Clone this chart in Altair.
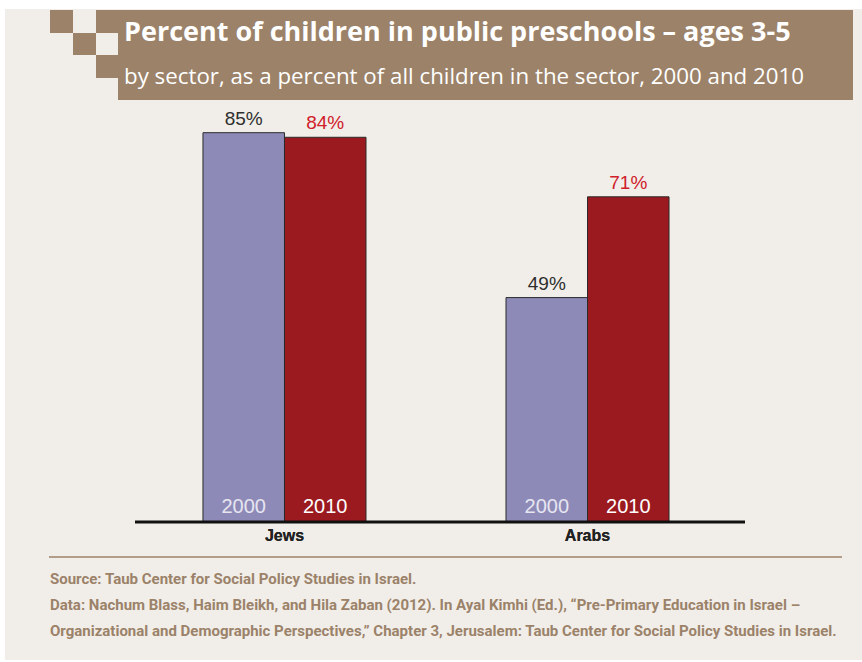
import altair as alt
import pandas as pd

sectors = ["Jews", "Jews", "Arabs", "Arabs"]
years = ["2000", "2010", "2000", "2010"]
values = [85, 84, 49, 71]

title_text = "Percent of children in public preschools – ages 3-5"
subtitle_text = "by sector, as a percent of all children in the sector, 2000 and 2010"
source_lines = [
    "Source: Taub Center for Social Policy Studies in Israel.",
    "Data: Nachum Blass, Haim Bleikh, and Hila Zaban (2012). In Ayal Kimhi (Ed.), “Pre-Primary Education in Israel –",
    "Organizational and Demographic Perspectives,” Chapter 3, Jerusalem: Taub Center for Social Policy Studies in Israel.",
]

df = pd.DataFrame({"sector": sectors, "year": years, "value": values})

BEIGE = "#F1EEE9"
BROWN = "#9B8269"
one = alt.Data(values=[{}])

def box(x, x2, y, y2, color):
    return alt.Chart(one).mark_rect(color=color).encode(
        x=alt.value(x), x2=alt.value(x2), y=alt.value(y), y2=alt.value(y2)
    )

bg = box(5, 862, 9, 660, BEIGE)
title_boxes = [
    box(118, 853, 10, 100, BROWN),
    box(96, 118, 10, 33, BROWN),
    box(50, 73, 10, 33, BROWN),
    box(73, 96, 33, 55, BROWN),
    box(96, 118, 55, 78, BROWN),
]

title = alt.Chart(one).mark_text(
    text=title_text, font="Open Sans", fontWeight="bold", fontSize=27, color="white",
    align="left", baseline="middle"
).encode(x=alt.value(124), y=alt.value(33))
subtitle = alt.Chart(one).mark_text(
    text=subtitle_text, font="Open Sans", fontSize=22.3, color="white",
    align="left", baseline="middle"
).encode(x=alt.value(124), y=alt.value(77))

xscale = alt.Scale(domain=["Jews", "Arabs"], range=[131, 741], paddingInner=0.462, paddingOuter=0.2375)
yscale = alt.Scale(domain=[0, 100], range=[522, 64])
xoff = alt.XOffset("year:N", scale=alt.Scale(domain=["2000", "2010"], paddingInner=0, paddingOuter=0))

base = alt.Chart(df).encode(
    x=alt.X("sector:N", scale=xscale, axis=None),
    xOffset=xoff,
)

bars = base.mark_bar(stroke="#2b2b2b", strokeWidth=1).encode(
    y=alt.Y("value:Q", scale=yscale, axis=None),
    y2=alt.datum(0),
    fill=alt.Fill("year:N", scale=alt.Scale(domain=["2000", "2010"], range=["#8E8AB8", "#9B1A20"]), legend=None),
)

value_labels = base.transform_calculate(label="datum.value + '%'").mark_text(
    font="Liberation Sans", fontSize=19, baseline="bottom", dy=-4
).encode(
    y=alt.Y("value:Q", scale=yscale, axis=None),
    text="label:N",
    fill=alt.Fill("year:N", scale=alt.Scale(domain=["2000", "2010"], range=["#2e2e2e", "#D0202A"]), legend=None),
)

year_labels = base.mark_text(
    font="Liberation Sans", fontSize=20, baseline="middle"
).encode(
    y=alt.value(507),
    text="year:N",
    fill=alt.Fill("year:N", scale=alt.Scale(domain=["2000", "2010"], range=["#E6E5F0", "#FFFFFF"]), legend=None),
)

cat_labels = alt.Chart(df).mark_text(
    font="Liberation Sans", fontWeight="bold", fontSize=16, baseline="middle", color="#222222"
).encode(
    x=alt.X("sector:N", scale=xscale, axis=None),
    y=alt.value(536),
    text="sector:N",
)

baseline_rule = alt.Chart(one).mark_rule(color="#111111", strokeWidth=3).encode(
    x=alt.value(135), x2=alt.value(745), y=alt.value(522)
)

footer_rule = alt.Chart(one).mark_rule(color=BROWN, strokeWidth=1.5).encode(
    x=alt.value(49), x2=alt.value(842), y=alt.value(557)
)

footer_texts = [
    alt.Chart(one).mark_text(
        text=line, font="Roboto", fontWeight="bold", fontSize=15,
        color=BROWN, align="left", baseline="middle"
    ).encode(x=alt.value(50), y=alt.value(yy))
    for line, yy in zip(source_lines, [579, 605, 631])
]

chart = alt.layer(
    bg, *title_boxes, title, subtitle,
    bars, value_labels, year_labels, cat_labels, baseline_rule,
    footer_rule, *footer_texts
).resolve_scale(
    fill="independent"
).properties(
    width=862, height=662, autosize=alt.AutoSizeParams(type="none"), padding=0,
    background="white"
).configure_view(stroke=None)

chart.save("out.html", embed_options={"renderer": "svg", "actions": False})
